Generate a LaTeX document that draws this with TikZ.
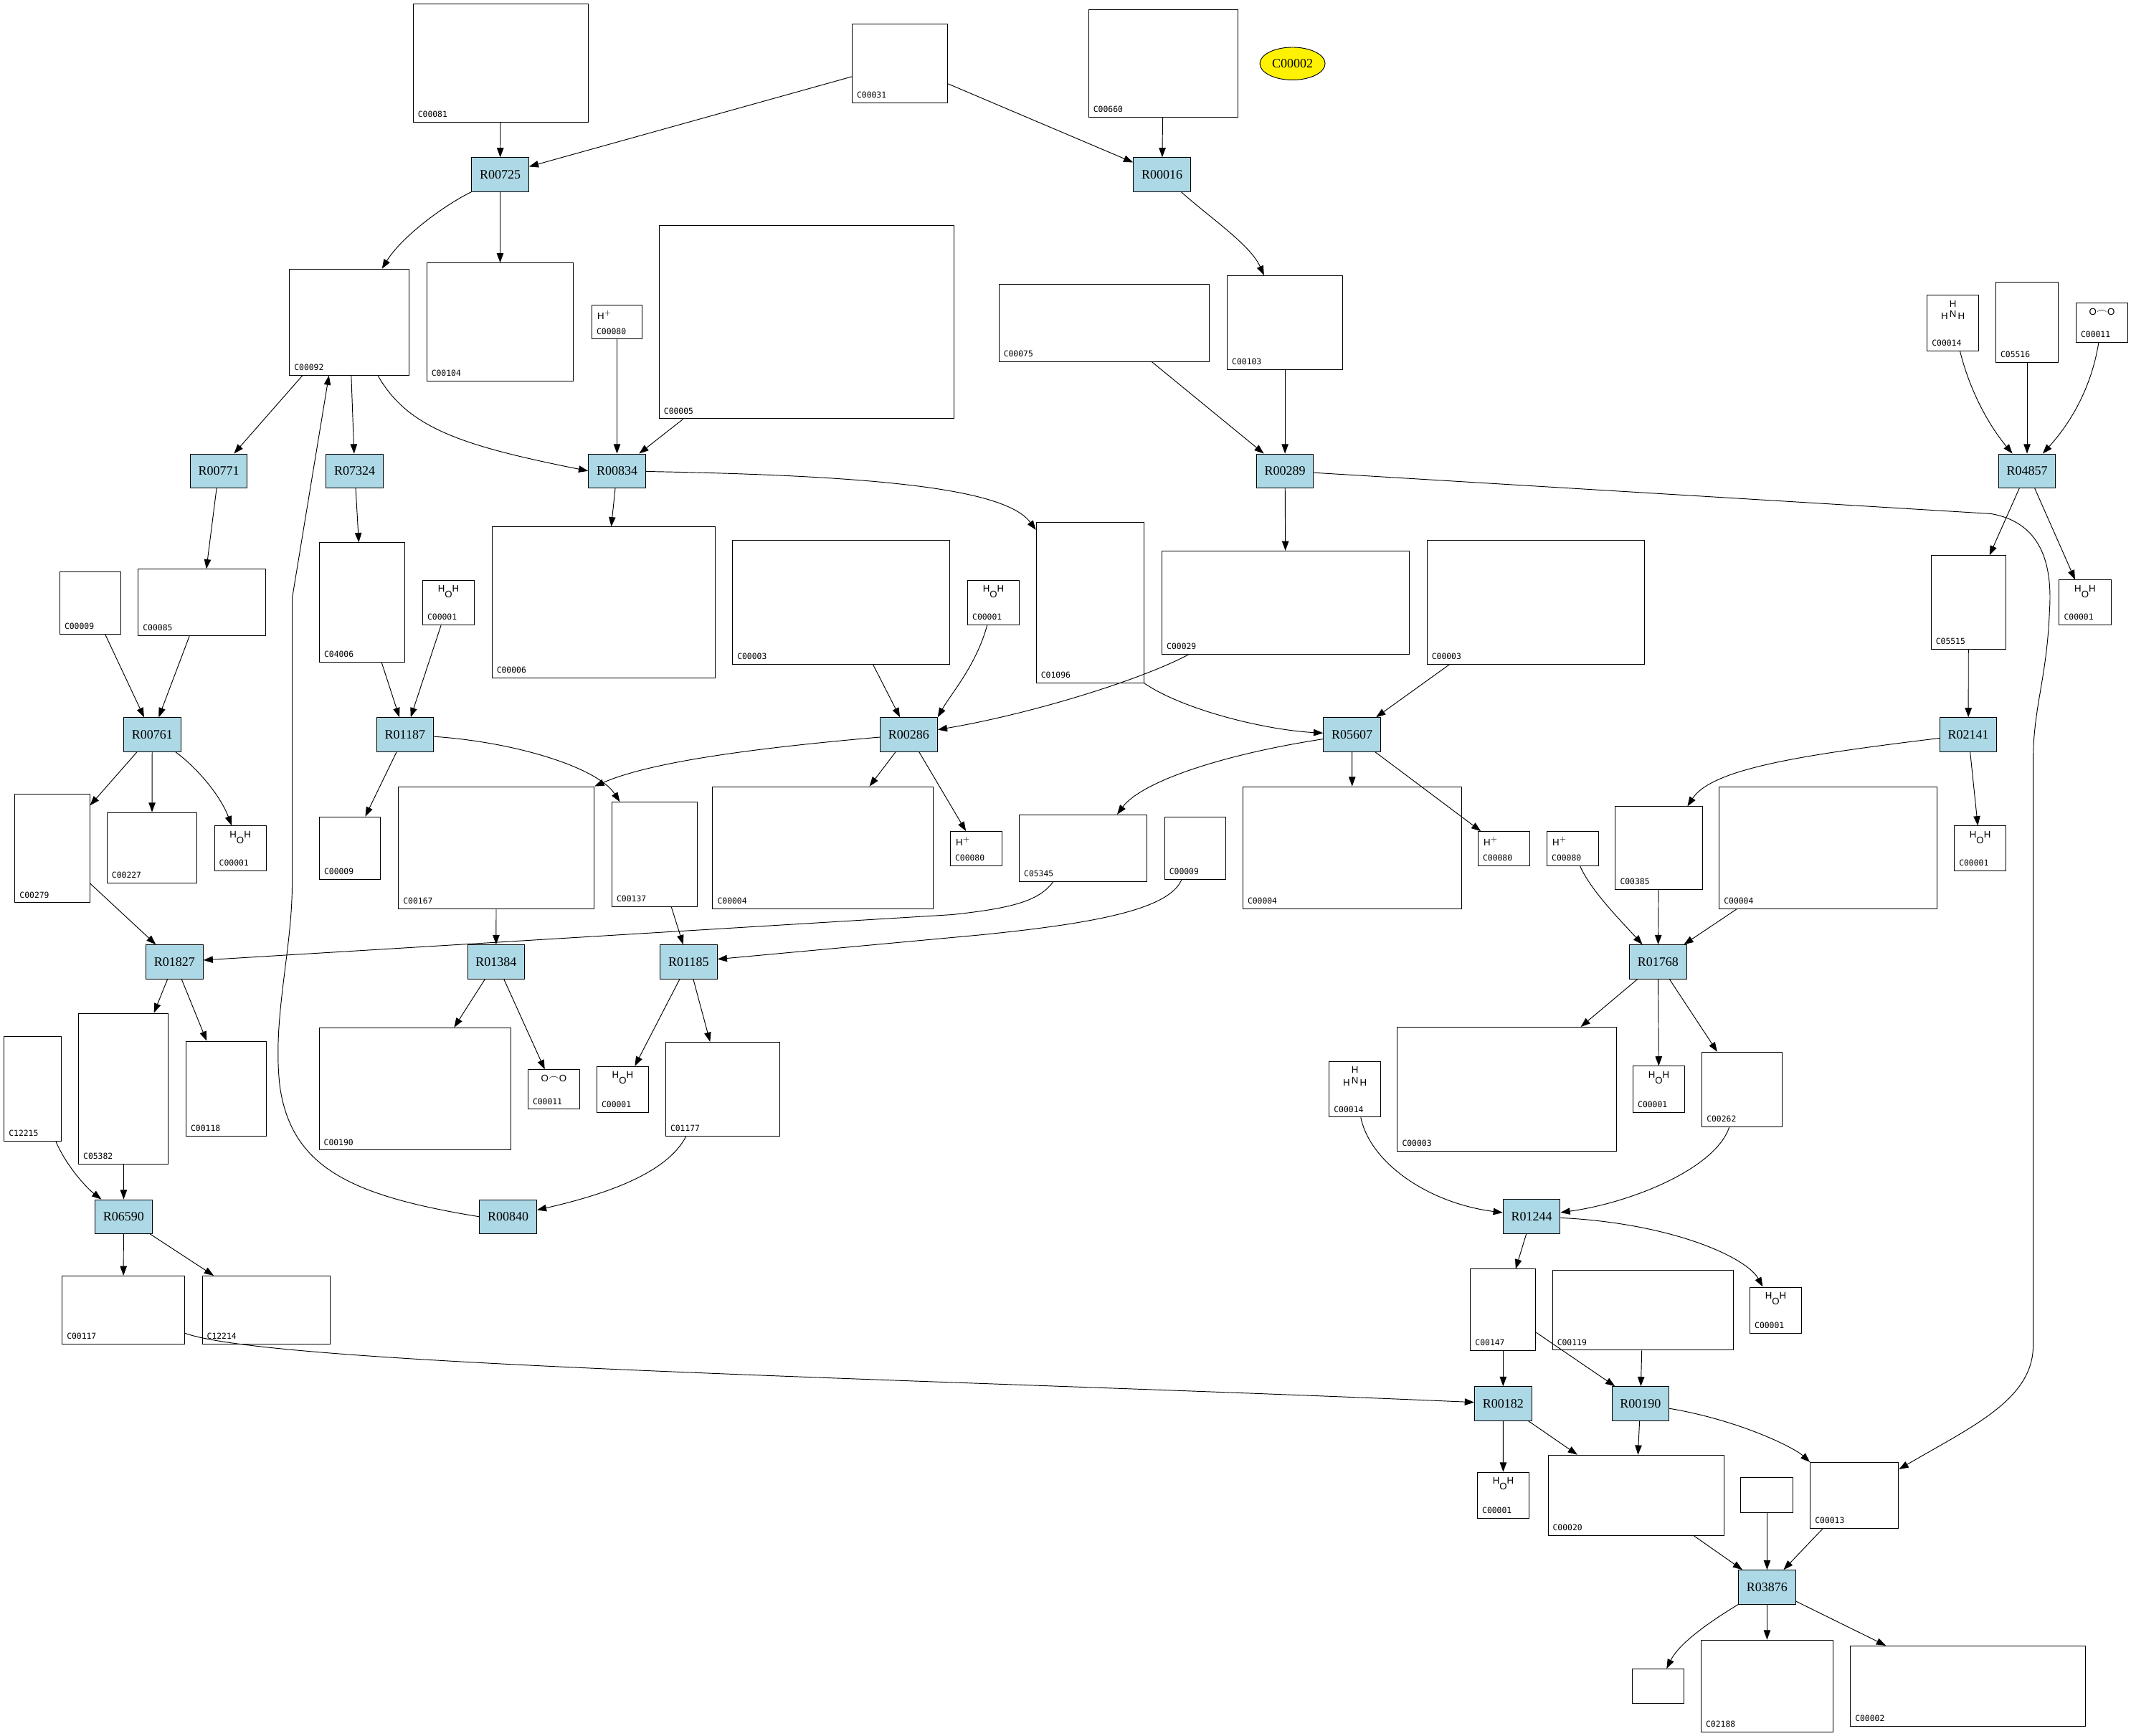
\documentclass[tikz,border=0pt]{standalone}
\usepackage{fontspec}
\setmainfont{Liberation Serif}
\newfontfamily\idfamily{DejaVu Sans Mono}
\newfontfamily\chemfamily{Liberation Sans}
\usetikzlibrary{shapes.geometric, arrows.meta}
\definecolor{rxnblue}{RGB}{173,216,230}

\begin{document}
\begin{tikzpicture}[x=1pt, y=-1pt, line width=0.5pt,
    >={Triangle[length=7pt,width=5pt]},
    rxn/.style={draw, rectangle, fill=rxnblue, minimum width=42pt, minimum height=25pt, inner sep=0pt, font=\fontsize{9.5}{10}\selectfont},
    cpd/.style={draw, rectangle, inner sep=0pt},
    cid/.style={label={[font=\idfamily\fontsize{6}{6}\selectfont, anchor=south west, inner sep=3.5pt]south west:#1}},
    chem/.style={label={[font=\chemfamily\fontsize{7}{8}\selectfont, anchor=north, inner sep=4pt]north:#1}},
    hplus/.style={label={[font=\chemfamily\fontsize{7}{8}\selectfont, anchor=north west, inner sep=4pt]north west:H$^+$}},
    link/.style={->}]
        \useasboundingbox (0,0) rectangle (1568,1277);

        % Nodes
        \node[cpd, minimum width=129pt, minimum height=87pt, cid=C00081] (c00081) at (368.5,46.5) {};
        \node[cpd, minimum width=70pt, minimum height=58pt, cid=C00031] (c00031) at (662,46.6) {};
        \node[cpd, minimum width=110pt, minimum height=79pt, cid=C00660] (c00660) at (856,46.5) {};
        \node[draw, ellipse, fill=yellow, minimum width=48pt, minimum height=24pt, inner sep=0pt, font=\fontsize{9.5}{10}\selectfont] (c00002top) at (951,46.8) {C00002};

        \node[rxn] (r00725) at (368,128.5) {R00725};
        \node[rxn] (r00016) at (855,128.5) {R00016};

        \node[cpd, minimum width=88pt, minimum height=78pt, cid=C00092] (c00092) at (257,237) {};
        \node[cpd, minimum width=108pt, minimum height=87pt, cid=C00104] (c00104) at (368,237) {};
        \node[cpd, minimum width=37pt, minimum height=25pt, cid=C00080, hplus] (h1) at (454,237) {};
        \node[cpd, minimum width=217pt, minimum height=142pt, cid=C00005] (c00005) at (593.5,237) {};
        \node[cpd, minimum width=155pt, minimum height=57pt, cid=C00075] (c00075) at (812.5,237.5) {};
        \node[cpd, minimum width=85pt, minimum height=69pt, cid=C00103] (c00103) at (945.5,237.3) {};
        \node[cpd, minimum width=38pt, minimum height=41pt, cid=C00014, chem={\shortstack{H\\H\,\raisebox{1.5pt}{N}\,H}}] (c00014a) at (1437,237.5) {};
        \node[cpd, minimum width=46pt, minimum height=59pt, cid=C05516] (c05516) at (1491.5,237.2) {};
        \node[cpd, minimum width=38pt, minimum height=29pt, cid=C00011, chem={O\raisebox{1pt}{$\frown$}O}] (c00011a) at (1546.6,237.3) {};

        \node[rxn] (r00771) at (161,346.5) {R00771};
        \node[rxn] (r07324) at (261,346.5) {R07324};
        \node[rxn] (r00834) at (454,346.5) {R00834};
        \node[rxn] (r00289) at (945.5,346.5) {R00289};
        \node[rxn] (r04857) at (1491.5,346.5) {R04857};

        \node[cpd, minimum width=45pt, minimum height=46pt, cid=C00009] (p1) at (66.5,443.5) {};
        \node[cpd, minimum width=94pt, minimum height=49pt, cid=C00085] (c00085) at (148.7,443.3) {};
        \node[cpd, minimum width=63pt, minimum height=88pt, cid=C04006] (c04006) at (266.5,443.3) {};
        \node[cpd, minimum width=38pt, minimum height=33pt, cid=C00001, chem={H\raisebox{-4pt}{O}H}] (w1) at (330,443.4) {};
        \node[cpd, minimum width=164pt, minimum height=111pt, cid=C00006] (c00006) at (444,443.2) {};
        \node[cpd, minimum width=160pt, minimum height=91pt, cid=C00003] (c00003a) at (619,443.2) {};
        \node[cpd, minimum width=38pt, minimum height=33pt, cid=C00001, chem={H\raisebox{-4pt}{O}H}] (w2) at (731,443.4) {};
        \node[cpd, minimum width=79pt, minimum height=118pt, cid=C01096] (c01096) at (802,443.3) {};
        \node[cpd, minimum width=182pt, minimum height=76pt, cid=C00029] (c00029) at (946,443.4) {};
        \node[cpd, minimum width=160pt, minimum height=91pt, cid=C00003] (c00003b) at (1130,443.2) {};
        \node[cpd, minimum width=55pt, minimum height=69pt, cid=C05515] (c05515) at (1448.4,443.3) {};
        \node[cpd, minimum width=38pt, minimum height=33pt, cid=C00001, chem={H\raisebox{-4pt}{O}H}] (w3) at (1534.2,443.2) {};

        \node[rxn] (r00761) at (112,540.5) {R00761};
        \node[rxn] (r01187) at (298,540.5) {R01187};
        \node[rxn] (r00286) at (668.7,540.5) {R00286};
        \node[rxn] (r05607) at (994.8,540.5) {R05607};
        \node[rxn] (r02141) at (1448.3,540.5) {R02141};

        \node[cpd, minimum width=55pt, minimum height=80pt, cid=C00279] (c00279) at (38.5,624.2) {};
        \node[cpd, minimum width=66pt, minimum height=52pt, cid=C00227] (c00227) at (111.8,623.8) {};
        \node[cpd, minimum width=38pt, minimum height=33pt, cid=C00001, chem={H\raisebox{-4pt}{O}H}] (w4) at (176.8,624.2) {};
        \node[cpd, minimum width=45pt, minimum height=46pt, cid=C00009] (p2) at (257.5,624) {};
        \node[cpd, minimum width=144pt, minimum height=90pt, cid=C00167] (c00167) at (365.2,623.8) {};
        \node[cpd, minimum width=63pt, minimum height=77pt, cid=C00137] (c00137) at (481.8,628.7) {};
        \node[cpd, minimum width=162pt, minimum height=90pt, cid=C00004] (c00004a) at (605.4,623.8) {};
        \node[cpd, minimum width=38pt, minimum height=25pt, cid=C00080, hplus] (h2) at (718.3,624.3) {};
        \node[cpd, minimum width=94pt, minimum height=49pt, cid=C05345] (c05345) at (797,624) {};
        \node[cpd, minimum width=45pt, minimum height=46pt, cid=C00009] (p3) at (879.4,624) {};
        \node[cpd, minimum width=161pt, minimum height=90pt, cid=C00004] (c00004b) at (995,623.8) {};
        \node[cpd, minimum width=38pt, minimum height=25pt, cid=C00080, hplus] (h3) at (1106.6,624.3) {};
        \node[cpd, minimum width=38pt, minimum height=25pt, cid=C00080, hplus] (h4) at (1157.3,624.3) {};
        \node[cpd, minimum width=64pt, minimum height=61pt, cid=C00385] (c00385) at (1220.6,624) {};
        \node[cpd, minimum width=160pt, minimum height=90pt, cid=C00004] (c00004c) at (1345,623.8) {};
        \node[cpd, minimum width=38pt, minimum height=33pt, cid=C00001, chem={H\raisebox{-4pt}{O}H}] (w5) at (1457,624.2) {};

        \node[rxn] (r01827) at (128.4,707.7) {R01827};
        \node[rxn] (r01384) at (365,707.7) {R01384};
        \node[rxn] (r01185) at (506.7,707.7) {R01185};
        \node[rxn] (r01768) at (1220,707.7) {R01768};

        \node[cpd, minimum width=42pt, minimum height=77pt, cid=C12215] (c12215) at (24,801.3) {};
        \node[cpd, minimum width=66pt, minimum height=111pt, cid=C05382] (c05382) at (90.8,801) {};
        \node[cpd, minimum width=59pt, minimum height=70pt, cid=C00118] (c00118) at (166.4,801.1) {};
        \node[cpd, minimum width=141pt, minimum height=90pt, cid=C00190] (c00190) at (305.3,801.2) {};
        \node[cpd, minimum width=38pt, minimum height=29pt, cid=C00011, chem={O\raisebox{1pt}{$\frown$}O}] (c00011b) at (407.5,801.6) {};
        \node[cpd, minimum width=38pt, minimum height=34pt, cid=C00001, chem={H\raisebox{-4pt}{O}H}] (w6) at (458.2,801.6) {};
        \node[cpd, minimum width=84pt, minimum height=69pt, cid=C01177] (c01177) at (531.8,801.3) {};
        \node[cpd, minimum width=38pt, minimum height=41pt, cid=C00014, chem={\shortstack{H\\H\,\raisebox{1.5pt}{N}\,H}}] (c00014b) at (997,801.4) {};
        \node[cpd, minimum width=161pt, minimum height=91pt, cid=C00003] (c00003c) at (1108.7,801.3) {};
        \node[cpd, minimum width=38pt, minimum height=34pt, cid=C00001, chem={H\raisebox{-4pt}{O}H}] (w7) at (1220.6,801.5) {};
        \node[cpd, minimum width=59pt, minimum height=55pt, cid=C00262] (c00262) at (1281.8,801.6) {};

        \node[rxn] (r06590) at (91,895.2) {R06590};
        \node[rxn] (r00840) at (373.8,895.2) {R00840};
        \node[rxn] (r01244) at (1127,895) {R01244};

        \node[cpd, minimum width=90pt, minimum height=50pt, cid=C00117] (c00117) at (90.7,963.8) {};
        \node[cpd, minimum width=94pt, minimum height=50pt, cid=C12214] (c12214) at (195.8,963.8) {};
        \node[cpd, minimum width=48pt, minimum height=60pt, cid=C00147] (c00147) at (1106,963.8) {};
        \node[cpd, minimum width=133pt, minimum height=59pt, cid=C00119] (c00119) at (1208.8,963.9) {};
        \node[cpd, minimum width=38pt, minimum height=34pt, cid=C00001, chem={H\raisebox{-4pt}{O}H}] (w8) at (1306.6,964) {};

        \node[rxn] (r00182) at (1106,1032.7) {R00182};
        \node[rxn] (r00190) at (1207,1032.7) {R00190};

        \node[cpd, minimum width=38pt, minimum height=34pt, cid=C00001, chem={H\raisebox{-4pt}{O}H}] (w9) at (1106.1,1100.2) {};
        \node[cpd, minimum width=129.5pt, minimum height=59pt, cid=C00020] (c00020) at (1203.8,1100.1) {};
        \node[cpd, minimum width=38.5pt, minimum height=26pt] (blank1) at (1300.2,1100) {};
        \node[cpd, minimum width=65pt, minimum height=48.6pt, cid=C00013] (c00013) at (1364.5,1100.3) {};

        \node[rxn] (r03876) at (1300.2,1167.7) {R03876};

        \node[cpd, minimum width=38pt, minimum height=25pt] (blank2) at (1220,1240.5) {};
        \node[cpd, minimum width=97pt, minimum height=67.4pt, cid=C02188] (c02188) at (1300.2,1240.4) {};
        \node[cpd, minimum width=173pt, minimum height=59pt, cid=C00002] (c00002) at (1448,1240.5) {};

        % Arrows
        \draw[link] (c00081) -- (r00725);
        \draw[link] (c00031) -- (r00725);
        \draw[link] (c00031) -- (r00016);
        \draw[link] (c00660) -- (r00016);
        \draw[link] (r00725.south west) .. controls (325,152) and (295,175) .. (c00092);
        \draw[link] (r00725) -- (c00104);
        \draw[link] (c00092) -- (r00771);
        \draw[link] (c00092) -- (r07324);
        \draw[link] ([xshift=21pt]c00092.south) .. controls (300,315) and (340,328) .. (r00834.west);
        \draw[link] (h1) -- (r00834);
        \draw[link] (c00005) -- (r00834);
        \draw[link] (r00016) .. controls (890,160) and (920,180) .. (c00103);
        \draw[link] (c00075) -- (r00289);
        \draw[link] (c00103) -- (r00289);
        \draw[link] (c00014a) .. controls (1450,290) and (1465,315) .. (r04857);
        \draw[link] (c05516) -- (r04857);
        \draw[link] (c00011a) .. controls (1538,290) and (1520,315) .. (r04857);
        \draw[link] (r00771) -- (c00085);
        \draw[link] (r07324) -- (c04006);
        \draw[link] (r00834) -- (c00006);
        \draw[link] (r00834) .. controls (650,350) and (740,360) .. (c01096);
        \draw[link] (r00289) -- (c00029);
        \draw[link] (r00289) -- (1465,378) .. controls (1505,385) and (1510,420) .. (1508,450) .. controls (1506,500) and (1496,520) .. (1496,560) -- (1496,990) .. controls (1496,1030) and (1450,1050) .. (c00013);
        \draw[link] (r04857) -- (c05515);
        \draw[link] (r04857) -- (w3);
        \draw[link] (p1) -- (r00761);
        \draw[link] (c00085) -- (r00761);
        \draw[link] (c04006) -- (r01187);
        \draw[link] (w1) -- (r01187);
        \draw[link] (c00003a) -- (r00286);
        \draw[link] (w2) .. controls (718,490) and (700,510) .. (r00286.north east);
        \draw[link] (c01096.south east) .. controls (870,522) and (930,537) .. (r05607);
        \draw[link] (c00029) .. controls (840,500) and (760,525) .. (r00286);
        \draw[link] (c00003b) -- (r05607);
        \draw[link] (c05515) -- (r02141);
        \draw[link] (r00761) -- (c00279);
        \draw[link] (r00761) -- (c00227);
        \draw[link] (r00761) .. controls (145,565) and (162,585) .. (w4);
        \draw[link] (r01187) -- (p2);
        \draw[link] (r01187) .. controls (380,546) and (440,565) .. ([xshift=6pt]c00137.north west);
        \draw[link] (r00286) .. controls (560,550) and (480,560) .. (c00167.north east);
        \draw[link] (r00286) -- (c00004a);
        \draw[link] (r00286) -- (h2);
        \draw[link] (r05607) .. controls (900,555) and (840,575) .. ([xshift=25pt]c05345.north);
        \draw[link] (r05607) -- (c00004b);
        \draw[link] (r05607) -- (h3);
        \draw[link] (r02141) .. controls (1330,555) and (1260,565) .. ([xshift=21pt]c00385.north);
        \draw[link] (r02141) -- (w5);
        \draw[link] (c00279) -- (r01827);
        \draw[link] ([xshift=-22pt]c05345.south) .. controls (765,662) and (748,668) .. (700,673) -- (r01827);
        \draw[link] (c00167) -- (r01384);
        \draw[link] (c00137) -- (r01185);
        \draw[link] ([xshift=-10pt]p3.south) .. controls (860,670) and (800,680) .. (720,688) -- (r01185);
        \draw[link] (h4) .. controls (1170,655) and (1195,680) .. (r01768);
        \draw[link] (c00385) -- (r01768);
        \draw[link] (c00004c) -- (r01768);
        \draw[link] (r01827) -- (c05382);
        \draw[link] (r01827) -- (c00118);
        \draw[link] (r01384) -- (c00190);
        \draw[link] (r01384) -- (c00011b);
        \draw[link] (r01185) -- (w6);
        \draw[link] (r01185) -- (c01177);
        \draw[link] (r01768) -- (c00003c);
        \draw[link] (r01768) -- (w7);
        \draw[link] (r01768) -- (c00262);
        \draw[link] (c12215) .. controls (50,860) and (65,875) .. (r06590);
        \draw[link] (c05382) -- (r06590);
        \draw[link] ([xshift=-27pt]c01177.south) .. controls (490,865) and (440,880) .. (r00840);
        \draw[link] (r00840.west) .. controls (260,880) and (215,860) .. (206,800) .. controls (200,750) and (215,700) .. (215,650) -- (215,440) -- ([xshift=-15pt]c00092.south);
        \draw[link] (c00014b) .. controls (1008,855) and (1050,885) .. (r01244);
        \draw[link] (c00262) .. controls (1262,860) and (1200,885) .. (r01244);
        \draw[link] (r06590) -- (c00117);
        \draw[link] (r06590) -- (c12214);
        \draw[link] (r01244) -- (c00147);
        \draw[link] (r01244) .. controls (1230,900) and (1285,925) .. (w8);
        \draw[link] (c00117) .. controls (200,1005) and (700,1015) .. (r00182);
        \draw[link] (c00147) -- (r00182);
        \draw[link] (c00147) -- (r00190);
        \draw[link] (c00119) -- (r00190);
        \draw[link] (r00182) -- (w9);
        \draw[link] (r00182) -- (c00020);
        \draw[link] (r00190) -- (c00020);
        \draw[link] (r00190) .. controls (1280,1045) and (1320,1065) .. (c00013.north west);
        \draw[link] (c00020) -- (r03876);
        \draw[link] (blank1) -- (r03876);
        \draw[link] (c00013) -- (r03876);
        \draw[link] (r03876) .. controls (1255,1195) and (1235,1210) .. (blank2);
        \draw[link] (r03876) -- (c02188);
        \draw[link] (r03876) -- (c00002);
\end{tikzpicture}
\end{document}
